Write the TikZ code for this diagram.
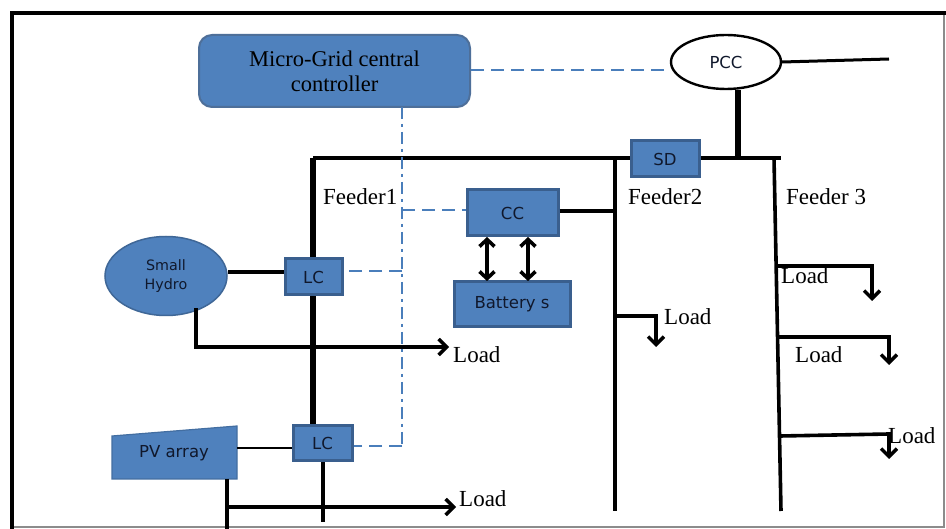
\documentclass[tikz,border=0pt]{standalone}
\usepackage{fontspec}
\setmainfont{Liberation Serif}
\newfontfamily\boxfont{DejaVu Sans}
\usetikzlibrary{shapes.geometric,arrows.meta}
\definecolor{boxfill}{HTML}{4F81BD}
\definecolor{boxline}{HTML}{3A5F8E}
\definecolor{commblue}{HTML}{4A7EBB}
\definecolor{txtdark}{HTML}{10182C}
\definecolor{framegrey}{HTML}{8C8C8C}
\begin{document}
\begin{tikzpicture}[x=1pt,y=-1pt,
  blk/.style={draw=boxline, line width=3pt, fill=boxfill, inner sep=0pt, font=\fontsize{16.5}{19}\selectfont\boxfont, text=txtdark},
  ctrlbox/.style={draw=boxline!90, line width=2pt, fill=boxfill, rounded corners=13pt, inner sep=0pt, align=center, font=\fontsize{22.5}{25}\selectfont, text=black},
  oval/.style={ellipse, inner sep=0pt},
  lbl/.style={font=\fontsize{23}{26}\selectfont, text=black, inner sep=0pt, anchor=west},
  wire/.style={line width=3.6pt, black},
  thickwire/.style={line width=5.4pt, black},
  thinwire/.style={line width=2.6pt, black},
  comm/.style={draw=commblue, line width=2.8pt, dash pattern=on 13pt off 7pt},
  commdot/.style={draw=commblue, line width=2.8pt, dash pattern=on 12pt off 5pt on 3pt off 5pt},
  loadarrow/.style={line width=3.6pt, -{Straight Barb[length=8pt,width=16pt,line width=3.4pt]}},
  dblarrow/.style={line width=4pt, {Straight Barb[length=7pt,width=15pt,line width=3.6pt]}-{Straight Barb[length=7pt,width=15pt,line width=3.6pt]}}
]
\useasboundingbox (0,0) rectangle (946,529);
\fill[white] (0,0) rectangle (946,529);
% frame
\draw[framegrey, line width=1.2pt] (944,13) -- (944,527) -- (12,527);
\draw[black, line width=4.5pt] (12,529) -- (12,13) -- (946,13);

% top bus and feeders
\coordinate (b1) at (313,158);
\coordinate (b2) at (615,158);
\coordinate (b3) at (774,158);
\coordinate (bend) at (781,158);
\coordinate (bpcc) at (738,158);
\draw[wire] (b1) -- (bend);
\coordinate (f2end) at (615,511);
\coordinate (f3end) at (781,511);
\draw[wire] (b2) -- (f2end);
\draw[wire] (b3) -- (f3end);

% PCC
\node[oval, draw=black, line width=2.4pt, fill=white, minimum width=110pt, minimum height=54pt, font=\fontsize{16.5}{19}\selectfont\boxfont, text=txtdark] (pcc) at (726,62) {PCC};
\coordinate (grid) at (889,59);
\draw[line width=3pt] (pcc.east) -- (grid);
\draw[thickwire] (pcc.south -| bpcc) -- (bpcc);

% SD
\node[blk, minimum width=68pt, minimum height=36pt] (sd) at (665,159) {SD};

% central controller
\node[ctrlbox, minimum width=271pt, minimum height=72pt] (mgcc) at (334.5,71) {Micro-Grid central\\controller};
\draw[comm] (mgcc.east |- 0,70) -- (pcc.west |- 0,70);

% CC and batteries
\node[blk, minimum width=91pt, minimum height=46pt] (cc) at (512.5,213) {CC};
\node[blk, minimum width=116pt, minimum height=45pt] (bat) at (512,304.5) {Battery s};
\draw[wire] (cc.east |- 0,211) -- (b2 |- 0,211);
\draw[dblarrow] (487,281) -- (487,237);
\draw[dblarrow] (528,281) -- (528,237);

% Small hydro and LC1
\node[oval, draw=boxfill!80!black, line width=1.5pt, fill=boxfill, minimum width=122pt, minimum height=79pt, align=center, font=\fontsize{14.3}{19.5}\selectfont\boxfont, text=txtdark] (hydro) at (166,276) {Small\\Hydro};
\node[blk, minimum width=57pt, minimum height=36pt] (lc1) at (313.5,277) {LC};
\draw[wire] (hydro.east |- 0,272) -- (lc1.west |- 0,272);
\draw[thickwire] (b1) -- (lc1.north -| b1);

% PV array and LC2
\coordinate (pv1) at (112,436);
\coordinate (pv2) at (237,426);
\coordinate (pv3) at (237,479);
\coordinate (pv4) at (112,479);
\fill[boxfill] (pv1) -- (pv2) -- (pv3) -- (pv4) -- cycle;
\draw[boxfill!85!black, line width=1.2pt] (pv1) -- (pv2) -- (pv3) -- (pv4) -- cycle;
\node[font=\fontsize{16.5}{19}\selectfont\boxfont, text=txtdark] (pv) at (174,453) {PV array};
\node[blk, minimum width=59pt, minimum height=35pt] (lc2) at (322.5,443.5) {LC};
\draw[thickwire] (lc1.south -| b1) -- (lc2.north -| b1);
\draw[thinwire] (pv2 |- 0,448) -- (lc2.west |- 0,448);

% control (dashed) links
\coordinate (d0) at (402,107);
\coordinate (d1) at (402,210);
\coordinate (d2) at (402,271);
\coordinate (d3) at (402,446);
\draw[commdot] (d0) -- (d3);
\draw[comm] (d3) -- (lc2.east |- d3);
\draw[comm] (d1) -- (cc.west |- d1);
\draw[comm] (d2) -- (lc1.east |- d2);

% hydro load
\coordinate (h0) at (196,308);
\coordinate (h1) at (196,347);
\coordinate (hl) at (449,347);
\draw[loadarrow] (h0) -- (h1) -- (hl);
\node[lbl] (load1) at (453,355) {Load};

% PV load
\coordinate (p0) at (227,479);
\coordinate (p1) at (227,529);
\coordinate (p2) at (227,507);
\coordinate (pl) at (456,507);
\draw[wire] (p0) -- (p1);
\draw[loadarrow] (p2) -- (pl);
\node[lbl] (load2) at (459,499) {Load};
\coordinate (lc2b) at (323,522);
\draw[wire] (lc2.south -| lc2b) -- (lc2b);

% feeder 2 load
\coordinate (f2a) at (615,316);
\coordinate (f2b) at (656,316);
\coordinate (f2c) at (656,347);
\draw[loadarrow] (f2a) -- (f2b) -- (f2c);
\node[lbl] (load3) at (664,317) {Load};

% feeder 3 loads
\coordinate (f3a) at (776,266);
\coordinate (f3b) at (872,266);
\coordinate (f3c) at (872,301);
\draw[loadarrow] (f3a) -- (f3b) -- (f3c);
\node[lbl] (load4) at (781,276) {Load};
\coordinate (f3d) at (778,337);
\coordinate (f3e) at (889,337);
\coordinate (f3f) at (889,365);
\draw[loadarrow] (f3d) -- (f3e) -- (f3f);
\node[lbl] (load5) at (795,355) {Load};
\coordinate (f3g) at (780,436);
\coordinate (f3h) at (889,434);
\coordinate (f3i) at (889,459);
\draw[loadarrow] (f3g) -- (f3h) -- (f3i);
\node[lbl] (load6) at (888,436) {Load};

% feeder labels
\node[lbl] (fd1) at (323,197) {Feeder1};
\node[lbl] (fd2) at (628,197) {Feeder2};
\node[lbl] (fd3) at (786,197) {Feeder 3};
\end{tikzpicture}
\end{document}
